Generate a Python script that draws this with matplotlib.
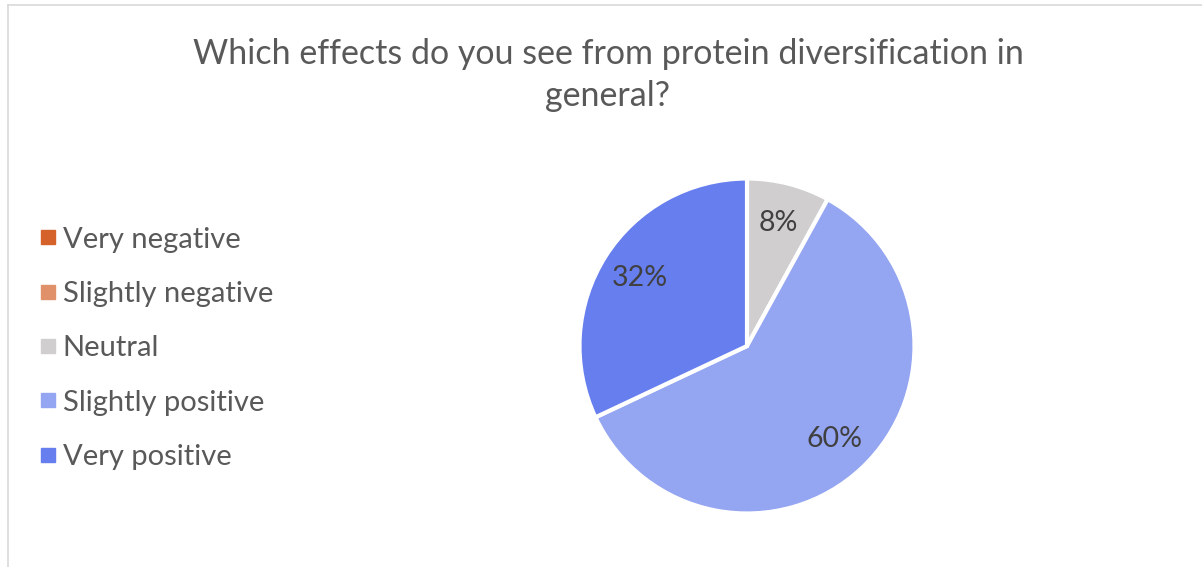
import matplotlib.pyplot as plt
from matplotlib.lines import Line2D

categories = ["Very negative", "Slightly negative", "Neutral", "Slightly positive", "Very positive"]
shares = [0, 0, 8, 60, 32]
colours = ["#D4622A", "#E0916A", "#D0CECE", "#94A5F2", "#667EEE"]
title = "Which effects do you see from protein diversification in\ngeneral?"

plt.rcParams["font.family"] = ["Lato", "DejaVu Sans"]

W, H = 1202, 567
fig = plt.figure(figsize=(W / 100, H / 100), dpi=100)

# chart frame (only left and top are visible in the crop)
fig.add_artist(Line2D([8 / W, 8 / W], [0, 1 - 5 / H], color="#D9D9D9", lw=1.2))
fig.add_artist(Line2D([8 / W, 1], [1 - 5 / H, 1 - 5 / H], color="#D9D9D9", lw=1.2))

fig.text(608 / W, 1 - 75 / H, title, ha="center", va="center", fontsize=24.5,
         color="#595959", linespacing=1.42)

# pie, centre (747, 346) px, radius ~167 px
cx, cy, r = 747, 346, 167.5
box = 180
ax = fig.add_axes([(cx - box) / W, (H - cy - box) / H, 2 * box / W, 2 * box / H])

wedges, _, autotexts = ax.pie(
    shares, colors=colours, startangle=90, counterclock=False,
    autopct=lambda p: f"{p:.0f}%" if p > 0 else "", pctdistance=0.76,
    wedgeprops=dict(edgecolor="white", linewidth=3),
    textprops=dict(fontsize=20.5, color="#404040"),
)
ax.set_xlim(-box / r, box / r)
ax.set_ylim(-box / r, box / r)
ax.set_aspect("equal")
ax.axis("off")

handles = [Line2D([], [], marker="s", ls="", markersize=9.5, color=c) for c in colours]
fig.legend(handles, categories, loc="upper left", bbox_to_anchor=(22 / W, 1 - 215 / H),
           frameon=False, fontsize=21, labelcolor="#595959", handletextpad=0.0,
           labelspacing=0.97, handlelength=1.0, borderaxespad=0)

fig.savefig("out.png", dpi=100)
